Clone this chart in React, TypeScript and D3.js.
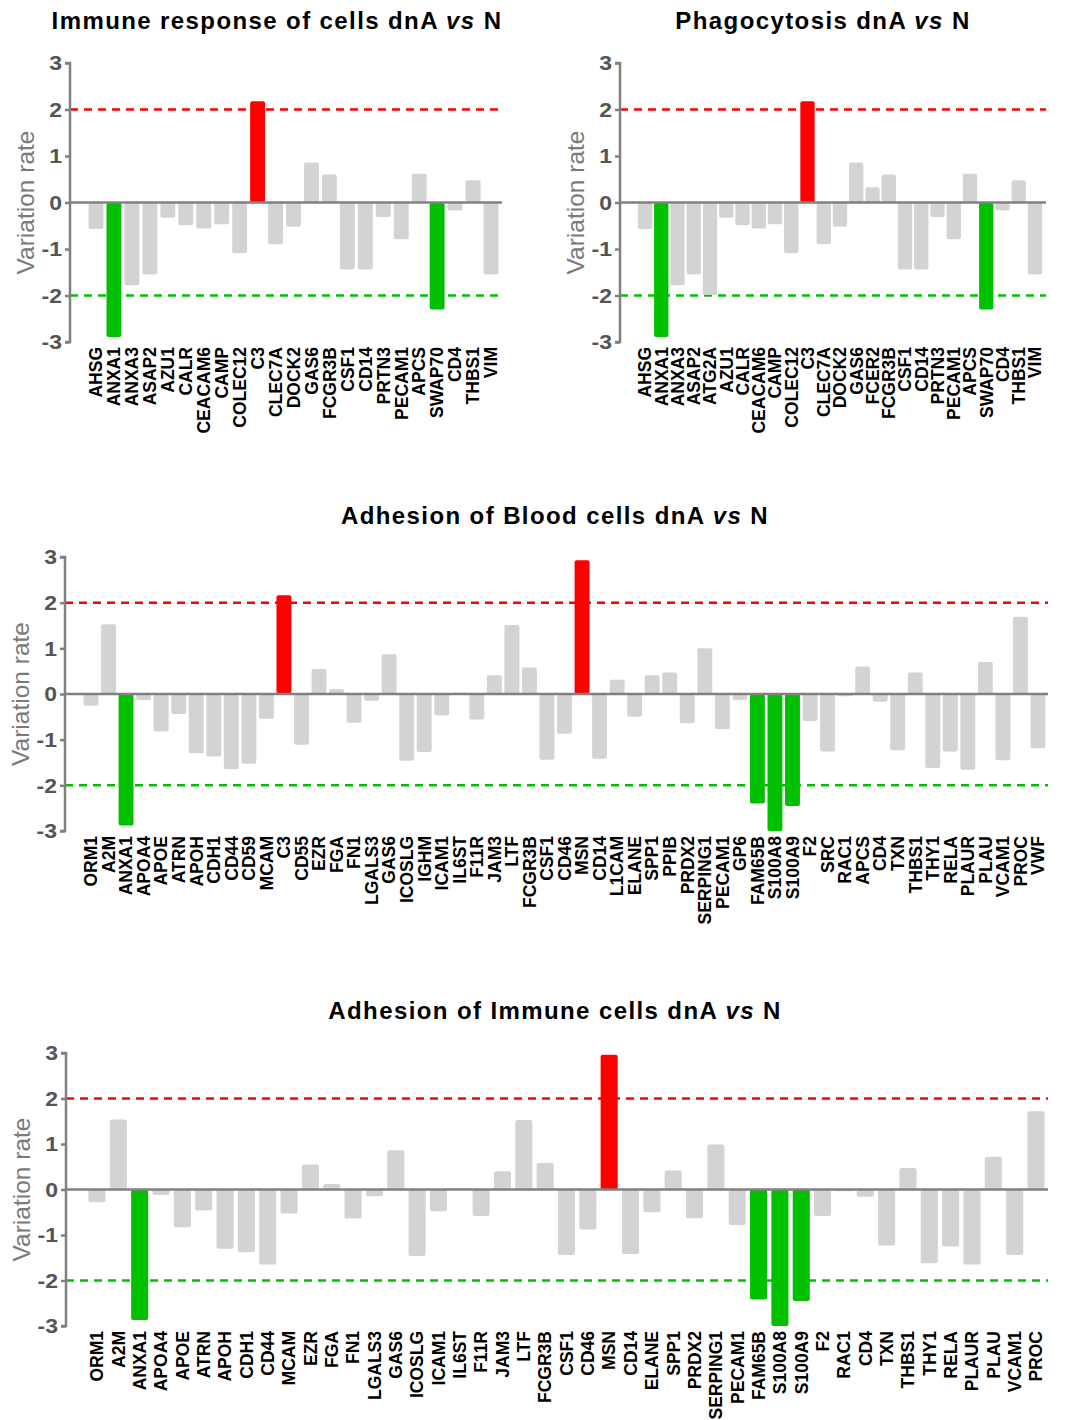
import { useEffect, useRef } from "react";
import * as d3 from "d3";

// ---- data ----
const immuneGenes = ["AHSG", "ANXA1", "ANXA3", "ASAP2", "AZU1", "CALR", "CEACAM6", "CAMP", "COLEC12", "C3", "CLEC7A", "DOCK2", "GAS6", "FCGR3B", "CSF1", "CD14", "PRTN3", "PECAM1", "APCS", "SWAP70", "CD4", "THBS1", "VIM"];
const immuneValues = [-0.57, -2.89, -1.78, -1.55, -0.33, -0.49, -0.56, -0.47, -1.09, 2.18, -0.9, -0.52, 0.86, 0.6, -1.44, -1.44, -0.31, -0.79, 0.62, -2.3, -0.17, 0.48, -1.55];

const phagoGenes = ["AHSG", "ANXA1", "ANXA3", "ASAP2", "ATG2A", "AZU1", "CALR", "CEACAM6", "CAMP", "COLEC12", "C3", "CLEC7A", "DOCK2", "GAS6", "FCER2", "FCGR3B", "CSF1", "CD14", "PRTN3", "PECAM1", "APCS", "SWAP70", "CD4", "THBS1", "VIM"];
const phagoValues = [-0.57, -2.89, -1.78, -1.55, -1.99, -0.33, -0.49, -0.56, -0.47, -1.09, 2.18, -0.9, -0.52, 0.86, 0.33, 0.6, -1.44, -1.44, -0.31, -0.79, 0.62, -2.3, -0.17, 0.48, -1.55];

const bloodGenes = ["ORM1", "A2M", "ANXA1", "APOA4", "APOE", "ATRN", "APOH", "CDH1", "CD44", "CD59", "MCAM", "C3", "CD55", "EZR", "FGA", "FN1", "LGALS3", "GAS6", "ICOSLG", "IGHM", "ICAM1", "IL6ST", "F11R", "JAM3", "LTF", "FCGR3B", "CSF1", "CD46", "MSN", "CD14", "L1CAM", "ELANE", "SPP1", "PPIB", "PRDX2", "SERPING1", "PECAM1", "GP6", "FAM65B", "S100A8", "S100A9", "F2", "SRC", "RAC1", "APCS", "CD4", "TXN", "THBS1", "THY1", "RELA", "PLAUR", "PLAU", "VCAM1", "PROC", "VWF"];
const bloodValues = [-0.26, 1.53, -2.88, -0.13, -0.82, -0.44, -1.3, -1.37, -1.65, -1.53, -0.54, 2.16, -1.11, 0.55, 0.11, -0.63, -0.15, 0.87, -1.46, -1.27, -0.47, 0.03, -0.56, 0.41, 1.51, 0.58, -1.44, -0.87, 2.93, -1.42, 0.31, -0.5, 0.41, 0.47, -0.64, 1.0, -0.77, -0.13, -2.4, -3.0, -2.45, -0.59, -1.26, -0.05, 0.6, -0.17, -1.23, 0.47, -1.62, -1.26, -1.66, 0.7, -1.45, 1.69, -1.19];

const adhImmGenes = ["ORM1", "A2M", "ANXA1", "APOA4", "APOE", "ATRN", "APOH", "CDH1", "CD44", "MCAM", "EZR", "FGA", "FN1", "LGALS3", "GAS6", "ICOSLG", "ICAM1", "IL6ST", "F11R", "JAM3", "LTF", "FCGR3B", "CSF1", "CD46", "MSN", "CD14", "ELANE", "SPP1", "PRDX2", "SERPING1", "PECAM1", "FAM65B", "S100A8", "S100A9", "F2", "RAC1", "CD4", "TXN", "THBS1", "THY1", "RELA", "PLAUR", "PLAU", "VCAM1", "PROC"];
const adhImmValues = [-0.28, 1.54, -2.87, -0.12, -0.83, -0.46, -1.3, -1.38, -1.65, -0.53, 0.55, 0.12, -0.64, -0.15, 0.86, -1.46, -0.48, 0.03, -0.58, 0.4, 1.53, 0.58, -1.44, -0.88, 2.96, -1.42, -0.5, 0.42, -0.63, 0.99, -0.78, -2.42, -3.0, -2.45, -0.58, -0.04, -0.16, -1.23, 0.47, -1.62, -1.25, -1.65, 0.72, -1.44, 1.72];

const yTicks = [-3, -2, -1, 0, 1, 2, 3];
const thresholds = [2, -2];

const FONT = "Arial, 'Liberation Sans', sans-serif";
const AXIS = "#808080";

const App = () => {
  const svgRef = useRef(null);
  const width = 1070;
  const height = 1420;

  useEffect(() => {
    if (!svgRef.current) return;
    const svg = d3.select(svgRef.current);
    svg.selectAll("*").remove();

    const panels = [
      { title: "Immune response of cells dnA ", titleX: 277, titleY: 29, genes: immuneGenes, values: immuneValues,
        axisX: 70, top: 63, bottom: 342, firstC: 96, lastC: 491, right: 502, pad: 0.17 },
      { title: "Phagocytosis dnA ", titleX: 823, titleY: 29, genes: phagoGenes, values: phagoValues,
        axisX: 620, top: 63, bottom: 342, firstC: 645, lastC: 1035, right: 1046, pad: 0.12 },
      { title: "Adhesion of Blood cells dnA ", titleX: 555, titleY: 524, genes: bloodGenes, values: bloodValues,
        axisX: 65, top: 557, bottom: 831, firstC: 91, lastC: 1038, right: 1048, pad: 0.15 },
      { title: "Adhesion of Immune cells dnA ", titleX: 555, titleY: 1019, genes: adhImmGenes, values: adhImmValues,
        axisX: 66, top: 1053, bottom: 1326, firstC: 97, lastC: 1036, right: 1048, pad: 0.2 },
    ];

    panels.forEach((p) => {
      const g = svg.append("g");
      const n = p.genes.length;
      const step = (p.lastC - p.firstC) / (n - 1);

      const x = d3.scaleBand()
        .domain(p.genes)
        .range([p.firstC - step / 2, p.lastC + step / 2])
        .paddingInner(p.pad)
        .paddingOuter(p.pad / 2);

      const y = d3.scaleLinear().domain([-3, 3]).range([p.bottom, p.top]);

      // title
      const t = g.append("text")
        .attr("x", p.titleX)
        .attr("y", p.titleY)
        .attr("text-anchor", "middle")
        .attr("font-family", FONT)
        .attr("font-weight", "bold")
        .attr("font-size", 24)
        .attr("letter-spacing", 1.4)
        .attr("fill", "#000");
      t.append("tspan").text(p.title);
      t.append("tspan").attr("font-style", "italic").text("vs");
      t.append("tspan").text(" N");

      // threshold dashed lines (behind bars)
      thresholds.forEach((th) => {
        g.append("line")
          .attr("x1", p.axisX)
          .attr("x2", p.right)
          .attr("y1", y(th))
          .attr("y2", y(th))
          .attr("stroke", th > 0 ? "#ff0000" : "#00c000")
          .attr("stroke-width", 2.5)
          .attr("stroke-dasharray", "8,6");
      });

      // bars
      g.selectAll("rect.bar")
        .data(p.genes.map((gene, i) => ({ gene, v: p.values[i] })))
        .enter()
        .append("rect")
        .attr("class", "bar")
        .attr("x", (d) => x(d.gene))
        .attr("width", x.bandwidth())
        .attr("y", (d) => y(Math.max(0, d.v)))
        .attr("height", (d) => Math.abs(y(d.v) - y(0)))
        .attr("rx", 2)
        .attr("fill", (d) => (d.v > 2 ? "#ff0000" : d.v < -2 ? "#00c000" : "#d3d3d3"));

      // zero line
      g.append("line")
        .attr("x1", p.axisX)
        .attr("x2", p.right)
        .attr("y1", y(0))
        .attr("y2", y(0))
        .attr("stroke", AXIS)
        .attr("stroke-width", 2.5);

      // y axis (line + ticks), labels drawn separately below
      const yAxis = d3.axisLeft(y)
        .tickValues(yTicks)
        .tickSize(5)
        .tickFormat(() => "");
      const ax = g.append("g").attr("transform", `translate(${p.axisX},0)`).call(yAxis);
      ax.select(".domain").attr("stroke", AXIS).attr("stroke-width", 2.5).attr("d", `M-5,${p.top}H0V${p.bottom}H-5`);
      ax.selectAll(".tick line").attr("stroke", AXIS).attr("stroke-width", 2.5);

      g.selectAll("text.ytick")
        .data(yTicks)
        .enter()
        .append("text")
        .attr("class", "ytick")
        .attr("transform", (d) => `translate(${p.axisX - 8},${y(d)}) scale(1.15,1)`)
        .attr("text-anchor", "end")
        .attr("dy", "0.36em")
        .attr("font-family", FONT)
        .attr("font-size", 20)
        .attr("font-weight", "bold")
        .attr("fill", "#555")
        .text((d) => String(d));

      // y label
      g.append("text")
        .attr("transform", `translate(${p.axisX - 45},${(p.top + p.bottom) / 2}) rotate(-90)`)
        .attr("text-anchor", "middle")
        .attr("dy", "0.35em")
        .attr("font-family", FONT)
        .attr("font-size", 24.5)
        .attr("fill", "#7a7a7a")
        .text("Variation rate");

      // gene labels
      g.selectAll("text.gene")
        .data(p.genes)
        .enter()
        .append("text")
        .attr("class", "gene")
        .attr("transform", (d) => `translate(${(x(d) ?? 0) + x.bandwidth() / 2},${p.bottom + 5}) rotate(-90)`)
        .attr("text-anchor", "end")
        .attr("dy", "0.36em")
        .attr("font-family", FONT)
        .attr("font-size", 17.5)
        .attr("font-weight", "bold")
        .attr("fill", "#000")
        .text((d) => d);
    });
  }, []);

  return (
    <div style={{ position: "absolute", left: 0, top: 0, width: `${width}px`, height: `${height}px`, background: "#fff" }}>
      <svg ref={svgRef} width={width} height={height} viewBox={`0 0 ${width} ${height}`} />
    </div>
  );
};

export default App;
